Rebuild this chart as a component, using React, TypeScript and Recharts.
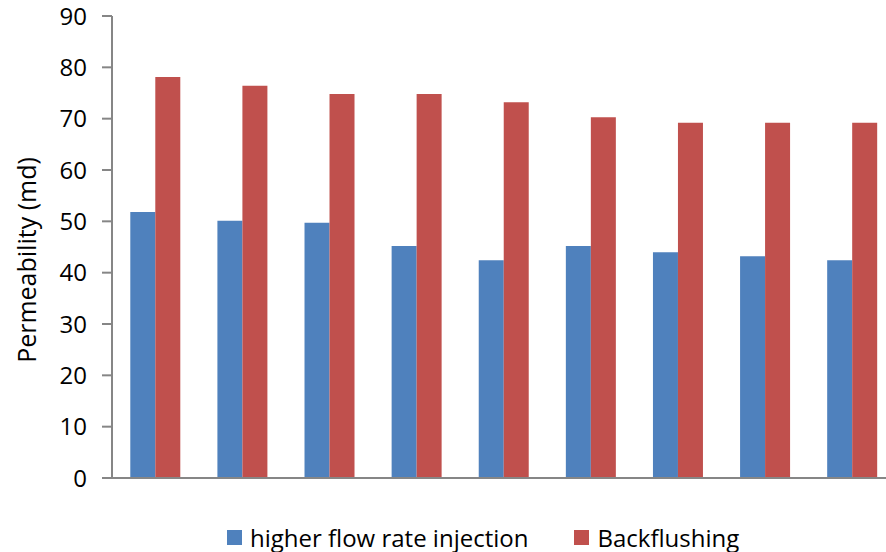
import { BarChart, Bar, XAxis, YAxis, Legend, Label } from "recharts";

// nine measurement runs, no category labels on the axis
const runs = ["1", "2", "3", "4", "5", "6", "7", "8", "9"];
const higherFlowRate = [51.8, 50.1, 49.7, 45.2, 42.4, 45.2, 44.0, 43.2, 42.4];
const backflushing = [78.1, 76.4, 74.8, 74.8, 73.2, 70.3, 69.2, 69.2, 69.2];
const yTicks = [0, 10, 20, 30, 40, 50, 60, 70, 80, 90];
const boundaryTicks = [0, 1, 2, 3, 4, 5, 6, 7, 8, 9];

const BLUE = "#4F81BD";
const RED = "#C0504D";
const AXIS = "#868686";
const FONT = "'Open Sans', sans-serif";

const data = runs.map((run, i) => ({
  run,
  flow: higherFlowRate[i],
  back: backflushing[i],
}));

const legendItems = [
  { label: "higher flow rate injection", color: BLUE },
  { label: "Backflushing", color: RED },
];

function LegendRow() {
  return (
    <div style={{ display: "flex", alignItems: "center", height: 30, paddingLeft: 227, fontFamily: FONT, fontSize: 24, color: "#000" }}>
      {legendItems.map((it, i) => (
        <div key={it.label} style={{ display: "flex", alignItems: "center", marginRight: i === 0 ? 46 : 0 }}>
          <span style={{ width: 15, height: 15, background: it.color, display: "inline-block", marginRight: 8 }} />
          <span>{it.label}</span>
        </div>
      ))}
    </div>
  );
}

const axisLine = { stroke: AXIS, strokeWidth: 2 };

export default function App() {
  return (
    <div style={{ position: "fixed", left: 0, top: 0, width: 886, height: 552, overflow: "hidden", background: "#fff" }}>
      <BarChart
        width={910}
        height={552}
        data={data}
        margin={{ top: 16, right: 14, bottom: 0, left: 0 }}
        barCategoryGap="21%"
        barGap={0}
      >
        {/* category axis for the bars, hidden */}
        <XAxis xAxisId="cat" dataKey="run" hide height={0} />
        {/* visible frame axis with ticks on the category boundaries */}
        <XAxis
          xAxisId="frame"
          type="number"
          domain={[0, 9]}
          ticks={boundaryTicks}
          allowDataOverflow
          height={44}
          axisLine={axisLine}
          tickLine={axisLine}
          tickSize={9}
          tick={false}
        />
        <YAxis
          domain={[0, 90]}
          ticks={yTicks}
          width={112}
          axisLine={axisLine}
          tickLine={axisLine}
          tickSize={10}
          tickMargin={15}
          tick={{ fill: "#000", fontSize: 24, fontFamily: FONT }}
        >
          <Label
            content={() => (
              <text
                x={0}
                y={0}
                transform="translate(26 260) rotate(-90)"
                textAnchor="middle"
                dominantBaseline="central"
                fontFamily={FONT}
                fontSize={25}
                fill="#000"
              >
                Permeability (md)
              </text>
            )}
          />
        </YAxis>
        <Legend verticalAlign="bottom" content={() => <LegendRow />} />
        <Bar xAxisId="cat" dataKey="flow" name="higher flow rate injection" fill={BLUE} isAnimationActive={false} />
        <Bar xAxisId="cat" dataKey="back" name="Backflushing" fill={RED} isAnimationActive={false} />
      </BarChart>
    </div>
  );
}
